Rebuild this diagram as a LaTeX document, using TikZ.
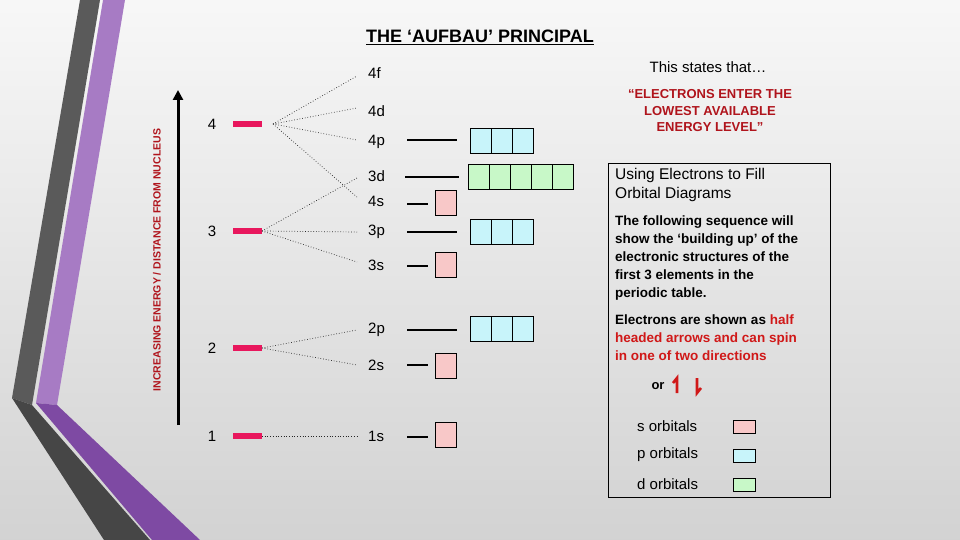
\documentclass[tikz,border=0pt]{standalone}
\usepackage{fontspec}
\setmainfont{Liberation Sans}
\usetikzlibrary{arrows.meta}
\definecolor{pinkbar}{HTML}{E8175D}
\definecolor{dred}{HTML}{B0141C}
\definecolor{bred}{HTML}{D01818}
\definecolor{sfill}{HTML}{F8C8C8}
\definecolor{pfill}{HTML}{C8F4FA}
\definecolor{dfill}{HTML}{C8F8C8}
\definecolor{lpurple}{HTML}{A77BC4}
\definecolor{dpurple}{HTML}{7E4AA3}
\definecolor{dgrey}{HTML}{5A5A5A}
\definecolor{ddgrey}{HTML}{464646}
\tikzset{
  lvl/.style={draw=pinkbar,line width=6pt},
  fan/.style={dotted,line width=0.7pt,black!85},
  eline/.style={line width=2.5pt,black},
  lab/.style={font=\fontsize{15}{17}\selectfont,inner sep=0pt},
  sbox/.style={draw=black,fill=sfill,line width=0.8pt},
  pbox/.style={draw=black,fill=pfill,line width=0.8pt},
  dbox/.style={draw=black,fill=dfill,line width=0.8pt},
  harrow/.style={draw=bred,line width=2.6pt}
}
\begin{document}
\begin{tikzpicture}[x=1pt,y=-1pt]
\useasboundingbox (0,0) rectangle (960,540);
\shade[top color=white!94!gray, bottom color=gray!35] (0,0) rectangle (960,540);
% decorative bands
\fill[dgrey] (80,0) -- (100,0) -- (32,405) -- (12,398) -- cycle;
\fill[ddgrey] (12,398) -- (32,405) -- (150,540) -- (104,540) -- cycle;
\fill[lpurple] (103,0) -- (125,0) -- (57,405) -- (36,403) -- cycle;
\fill[dpurple] (36,403) -- (57,405) -- (200,540) -- (152,540) -- cycle;
% title
\node (title) at (480,37) {\bfseries\fontsize{18}{20}\selectfont\underline{THE ‘AUFBAU’ PRINCIPAL}};
% energy arrow
\coordinate (ab) at (178,425); \coordinate (at) at (178,90);
\draw[line width=3pt,-{Triangle[length=10pt,width=10pt]}] (ab) -- (at);
\node[rotate=90,text=dred,font=\bfseries\fontsize{10.5}{12}\selectfont] (axlab) at (157,260) {INCREASING ENERGY / DISTANCE FROM NUCLEUS};
% levels
\foreach \n/\y in {4/124,3/231,2/348,1/436}{
  \node[lab] (n\n) at (212,\y) {\n};
  \draw[lvl] (233,\y) -- (262,\y);
}
\coordinate (f4) at (273,124); \coordinate (f3) at (262,231);
\coordinate (f2) at (262,348); \coordinate (f1) at (262,436);
% sublevel labels
\foreach \s/\y/\ey in {4f/73/76,4d/111/108,4p/142/140,3d/176/178,4s/201/197,3p/232/232,3s/265/262,2p/330/330,2s/365/365,1s/436/436}{
  \node[lab,anchor=west] (l\s) at (368,\y) {\s};
  \coordinate (e\s) at (357,\ey);
}
\foreach \s in {4f,4d,4p,4s} \draw[fan] (f4) -- (e\s);
\foreach \s in {3d,3p,3s} \draw[fan] (f3) -- (e\s);
\foreach \s in {2p,2s} \draw[fan] (f2) -- (e\s);
\draw[fan] (f1) -- (e1s);
% energy lines
\foreach \y in {140,232,330} \draw[eline] (407,\y) -- (457,\y);
\draw[eline] (405,177) -- (459,177);
\foreach \y in {204,266,365,437} \draw[eline] (407,\y) -- (428,\y);
% boxes
\foreach \y in {128,219,316}{
  \foreach \i in {0,1,2} \draw[pbox] (470+21*\i,\y) rectangle ++(21,25);
}
\foreach \i in {0,...,4} \draw[dbox] (468+21*\i,164) rectangle ++(21,25);
\foreach \y in {190,252,353,422} \draw[sbox] (435,\y) rectangle ++(21,25);
% right text
\node (states) at (708,67) {\fontsize{15}{17}\selectfont This states that…};
\node[text=dred,align=center,font=\bfseries\fontsize{13}{16.5}\selectfont] (quote) at (710,111) {“ELECTRONS ENTER THE\\LOWEST AVAILABLE\\ENERGY LEVEL”};
\draw[line width=0.8pt] (608,163) rectangle (830,497);
\node[anchor=north west,align=left,inner sep=0pt,font=\fontsize{15.5}{19}\selectfont] (using) at (615,168) {Using Electrons to Fill\\Orbital Diagrams};
\node[anchor=north west,align=left,inner sep=0pt,font=\bfseries\fontsize{13.5}{18}\selectfont] (para) at (615,216) {The following sequence will\\show the ‘building up’ of the\\electronic structures of the\\first 3 elements in the\\periodic table.};
\node[anchor=north west,align=left,inner sep=0pt,font=\bfseries\fontsize{13.5}{18}\selectfont] (elec) at (615,315) {Electrons are shown as \textcolor{bred}{half}\\\textcolor{bred}{headed arrows and can spin}\\\textcolor{bred}{in one of two directions}};
\node[font=\bfseries\fontsize{13}{15}\selectfont] (or) at (658,386) {or};
\draw[harrow] (677,393) -- (677,378) -- (673,383);
\draw[harrow] (697,378) -- (697,393) -- (701,388);
\foreach \t/\y/\st in {s/426/sbox,p/455/pbox,d/484/dbox}{
  \node[lab,anchor=west] (k\t) at (637,\y) {\t\ orbitals};
  \draw[\st] (733,\y-6) rectangle (755,\y+7);
}
\end{tikzpicture}
\end{document}
